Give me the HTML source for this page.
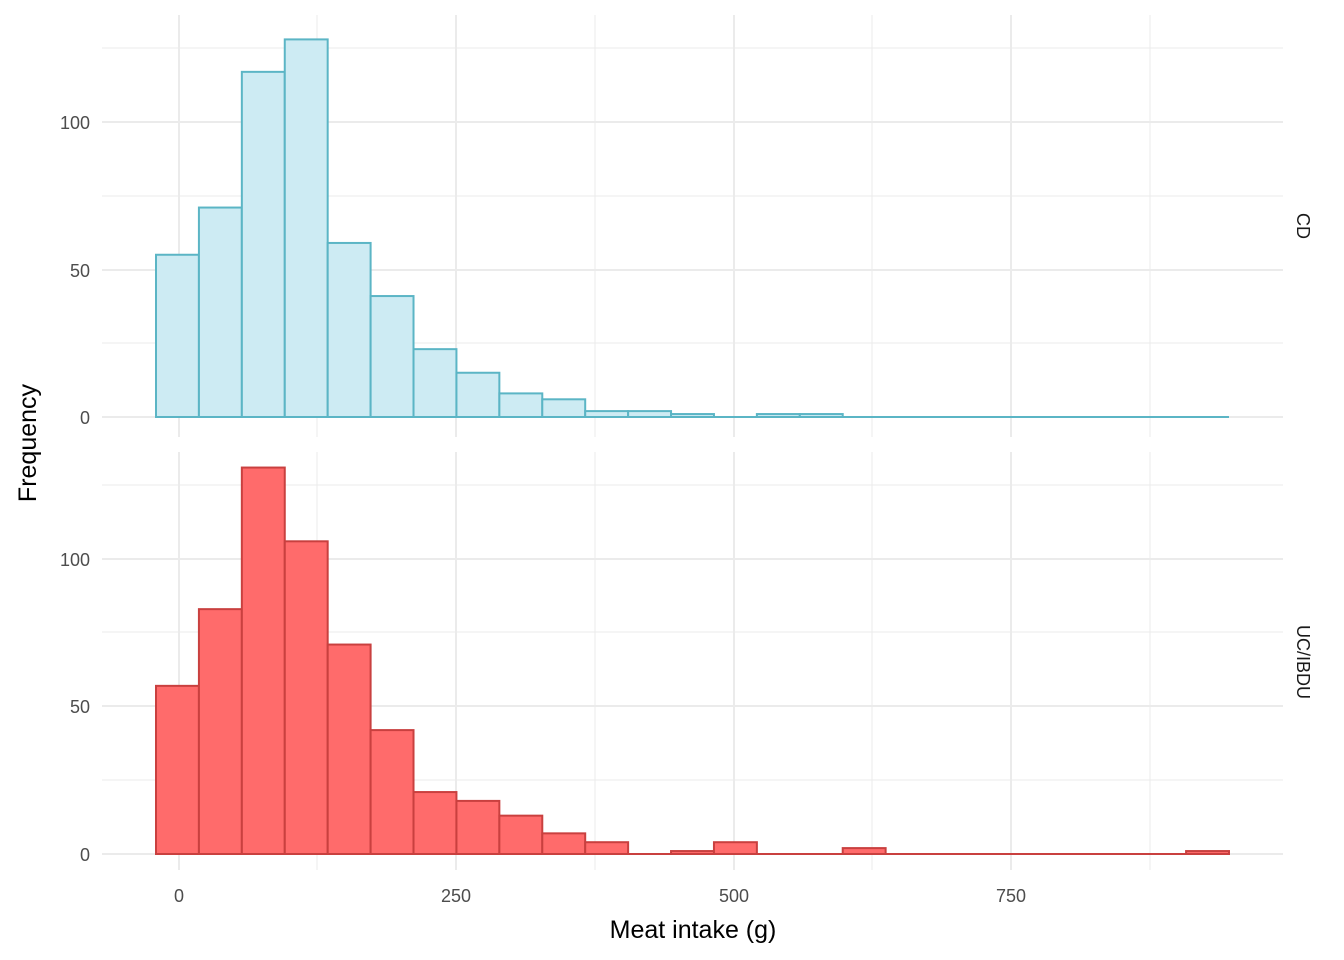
<!DOCTYPE html>
<html><head><style>body{margin:0;background:#fff}svg{display:block}text{font-family:"Liberation Sans",sans-serif}</style></head>
<body>
<svg width="1344" height="960" xmlns="http://www.w3.org/2000/svg">
<g id="grid" stroke="#ebebeb">
<g stroke-width="1">
<line x1="102" x2="1283" y1="48" y2="48"/><line x1="102" x2="1283" y1="196" y2="196"/><line x1="102" x2="1283" y1="343" y2="343"/>
<line x1="317" x2="317" y1="15" y2="437"/><line x1="595" x2="595" y1="15" y2="437"/><line x1="872" x2="872" y1="15" y2="437"/><line x1="1150" x2="1150" y1="15" y2="437"/>
<line x1="102" x2="1283" y1="485" y2="485"/><line x1="102" x2="1283" y1="632" y2="632"/><line x1="102" x2="1283" y1="780" y2="780"/>
<line x1="317" x2="317" y1="452" y2="870"/><line x1="595" x2="595" y1="452" y2="870"/><line x1="872" x2="872" y1="452" y2="870"/><line x1="1150" x2="1150" y1="452" y2="870"/>
</g>
<g stroke-width="2">
<line x1="102" x2="1283" y1="122" y2="122"/><line x1="102" x2="1283" y1="270" y2="270"/><line x1="102" x2="1283" y1="417" y2="417"/>
<line x1="179" x2="179" y1="15" y2="437"/><line x1="456" x2="456" y1="15" y2="437"/><line x1="734" x2="734" y1="15" y2="437"/><line x1="1011" x2="1011" y1="15" y2="437"/>
<line x1="102" x2="1283" y1="559" y2="559"/><line x1="102" x2="1283" y1="706" y2="706"/><line x1="102" x2="1283" y1="854" y2="854"/>
<line x1="179" x2="179" y1="452" y2="870"/><line x1="456" x2="456" y1="452" y2="870"/><line x1="734" x2="734" y1="452" y2="870"/><line x1="1011" x2="1011" y1="452" y2="870"/>
</g>
</g>
<line x1="156" x2="1229" y1="417" y2="417" stroke="#5bb5c5" stroke-width="2"/>
<line x1="156" x2="1229" y1="854" y2="854" stroke="#c9403f" stroke-width="2"/>
<g id="top" fill="#cdebf3" stroke="#5bb5c5" stroke-width="2"></g>
<g id="bot" fill="#ff6b6b" stroke="#c9403f" stroke-width="2"></g>
<g font-size="18" fill="#4d4d4d" text-anchor="end">
<text x="90" y="129">100</text><text x="90" y="277">50</text><text x="90" y="424">0</text>
<text x="90" y="566">100</text><text x="90" y="713">50</text><text x="90" y="861">0</text>
</g>
<g font-size="18" fill="#4d4d4d" text-anchor="middle">
<text x="179" y="902">0</text><text x="456" y="902">250</text><text x="734" y="902">500</text><text x="1011" y="902">750</text>
</g>
<text x="693" y="938" font-size="25" text-anchor="middle" fill="#000">Meat intake (g)</text>
<text transform="translate(36,443) rotate(-90)" font-size="25" text-anchor="middle" fill="#000">Frequency</text>
<text transform="translate(1297,226) rotate(90)" font-size="18" text-anchor="middle" fill="#1a1a1a">CD</text>
<text transform="translate(1297,662) rotate(90)" font-size="18" text-anchor="middle" fill="#1a1a1a">UC/IBDU</text>
</svg>
<script>
var t=[55,71,117,128,59,41,23,15,8,6,2,2,1,0,1,1,0,0,0,0,0,0,0,0,0];
var b=[57,83,131,106,71,42,21,18,13,7,4,0,1,4,0,0,2,0,0,0,0,0,0,0,1];
function draw(id,d,y0){var g=document.getElementById(id),s='';var w=(1229-156)/25;
for(var i=0;i<25;i++){if(!d[i])continue;var h=d[i]*2.95;s+='<rect x="'+(156+i*w)+'" y="'+(y0-h)+'" width="'+w+'" height="'+h+'"/>';}
g.innerHTML=s;}
draw('top',t,417);draw('bot',b,854);
</script>
</body></html>
